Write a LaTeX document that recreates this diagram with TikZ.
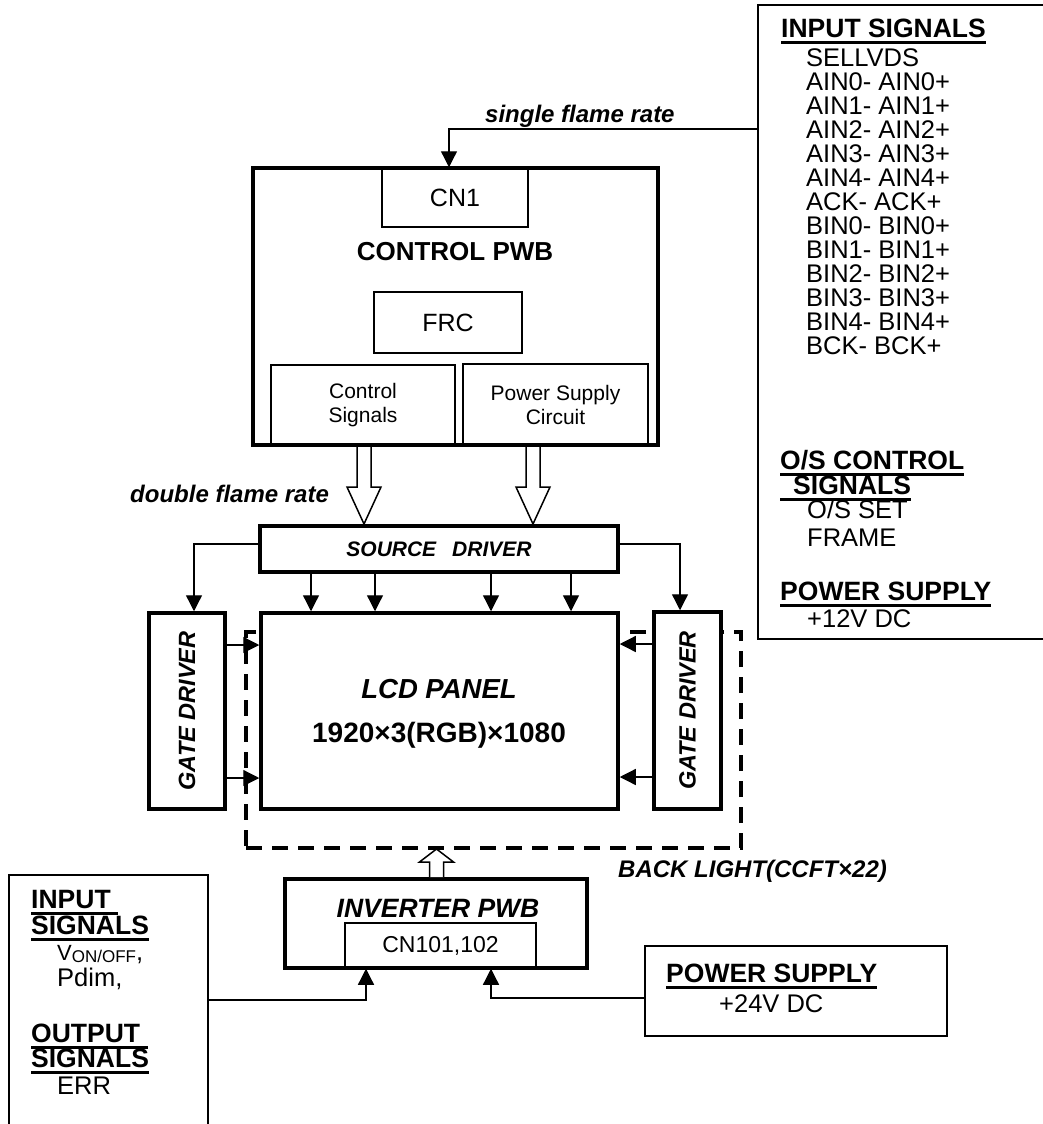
\documentclass[tikz,border=0pt]{standalone}
\usepackage{fontspec}
\setmainfont{Liberation Sans}
\usetikzlibrary{arrows.meta,positioning}

\newcommand{\ulbox}[1]{\setbox0=\hbox{#1}\rlap{\rule[-6.5pt]{\wd0}{3pt}}\box0}
\newcommand{\fatarrow}[4]{\draw[fat] (#1-7,#2) -- (#1-7,#4) -- (#1-17,#4) -- (#1,#3) -- (#1+17,#4) -- (#1+7,#4) -- (#1+7,#2);}

\begin{document}
\begin{tikzpicture}[x=1pt, y=-1pt,
    board/.style={draw, line width=3.5pt, fill=white, inner sep=0pt},
    part/.style={draw, line width=1.5pt, inner sep=0pt, align=center},
    listbox/.style={draw, line width=1.5pt, inner sep=0pt},
    lamp/.style={draw, dash pattern=on 16pt off 10pt, line width=3.5pt, inner sep=0pt},
    wire/.style={line width=1.3pt},
    sig/.style={wire, -{Triangle[length=16pt, width=16pt]}},
    fat/.style={line width=1.5pt, fill=white},
    txt/.style={inner sep=0pt, anchor=base west, font=\fontsize{25.5}{24}\selectfont},
    hd/.style={txt, font=\fontsize{26.5}{27}\selectfont\bfseries},
    bi/.style={inner sep=0pt, anchor=base, font=\fontsize{24}{24}\selectfont\bfseries\itshape}
]
    \useasboundingbox (0,0) rectangle (1043,1124);

    % signal lists
    \node[listbox, minimum width=292, minimum height=634] (sigR) at (904,322) {};
    \node[listbox, minimum width=199, minimum height=270] (sigL) at (108.5,1010) {};
    \node[listbox, minimum width=302, minimum height=90] (pwr) at (796,991) {};

    % back light
    \node[lamp, minimum width=495, minimum height=216] (blight) at (493.5,740) {};

    % control pwb
    \node[board, minimum width=405, minimum height=277] (ctrl) at (455.5,306.5) {};
    \node[part, minimum width=146, minimum height=59, font=\fontsize{25}{25}\selectfont] (cn1) at (455,197.5) {CN1};
    \node[bi, font=\fontsize{26}{26}\selectfont\bfseries] (ctrlname) at (455,260) {CONTROL PWB};
    \node[part, minimum width=148, minimum height=61, font=\fontsize{25}{25}\selectfont] (frc) at (448,322.5) {FRC};
    \node[part, minimum width=184, minimum height=80, font=\fontsize{21}{24}\selectfont] (ctlsig) at (363,405) {Control\\Signals};
    \node[part, minimum width=185, minimum height=81, font=\fontsize{21}{24}\selectfont] (psc) at (555.5,404.5) {Power Supply\\Circuit};

    % drivers and panel
    \node[board, minimum width=358, minimum height=46, font=\fontsize{21}{21}\selectfont\bfseries\itshape] (srcdrv) at (439,549) {SOURCE\hspace{16pt}DRIVER};
    \node[board, minimum width=76, minimum height=196] (lgate) at (187,711) {};
    \node[board, minimum width=67, minimum height=197] (rgate) at (687.5,710.5) {};
    \node[board, minimum width=357, minimum height=196] (lcd) at (439.5,711) {};
    \node[bi, rotate=90, anchor=center, font=\fontsize{23.5}{23.5}\selectfont\bfseries\itshape] (lgname) at (lgate.center) {GATE DRIVER};
    \node[bi, rotate=90, anchor=center, font=\fontsize{23.5}{23.5}\selectfont\bfseries\itshape] (rgname) at (rgate.center) {GATE DRIVER};
    \node[bi, font=\fontsize{27.5}{27.5}\selectfont\bfseries\itshape] (lcdname) at (439,698) {LCD PANEL};
    \node[bi, font=\fontsize{28}{28}\selectfont\bfseries] (lcdres) at (439,742) {1920×3(RGB)×1080};

    % inverter
    \node[board, minimum width=302, minimum height=89] (inv) at (436,923.5) {};
    \node[part, minimum width=191, minimum height=45, font=\fontsize{23}{23}\selectfont] (cn101) at (440.5,945.5) {CN101,102};
    \node[bi, font=\fontsize{26.5}{26.5}\selectfont\bfseries\itshape] (invname) at (438,917) {INVERTER PWB};

    % labels
    \node[bi, anchor=base west] (single) at (485,122) {single flame rate};
    \node[bi, anchor=base west] (double) at (130,502) {double flame rate};
    \node[bi, anchor=base west] (bllabel) at (618,877) {BACK LIGHT(CCFT×22)};

    % connections
    \draw[sig] (sigR.west |- 0,129) -| ([xshift=-6pt]cn1.north);
    \fatarrow{364}{447}{524}{487}
    \fatarrow{533}{447}{524}{487}
    \draw[sig] ([yshift=5pt]srcdrv.west) -| ([xshift=7pt]lgate.north);
    \draw[sig] ([yshift=5pt]srcdrv.east) -| ([xshift=-7.5pt]rgate.north);
    \foreach \x in {311,375,491,571}
        \draw[sig] (\x,0 |- srcdrv.south) -- (\x,0 |- lcd.north);
    \foreach \y in {645,778}
        \draw[sig] (lgate.east |- 0,\y) -- (lcd.west |- 0,\y);
    \foreach \y in {644,777}
        \draw[sig] (rgate.west |- 0,\y) -- (lcd.east |- 0,\y);
    \fatarrow{436.5}{877}{849}{862}
    \draw[sig] (sigL.east |- 0,1000) -| (366,0 |- cn101.south);
    \draw[sig] (pwr.west |- 0,998) -| (491,0 |- cn101.south);

    % right list
    \node[hd] (inhd) at (781,38) {\ulbox{INPUT SIGNALS}};
    \foreach \s [count=\i] in {SELLVDS, AIN0- AIN0+, AIN1- AIN1+, AIN2- AIN2+, AIN3- AIN3+,
        AIN4- AIN4+, ACK- ACK+, BIN0- BIN0+, BIN1- BIN1+, BIN2- BIN2+, BIN3- BIN3+,
        BIN4- BIN4+, BCK- BCK+}
        \node[txt] (in\i) at (806,42.5+24*\i) {\s};
    \node[hd] (oshd) at (780,469) {\ulbox{O/S CONTROL}};
    \node[hd] (oshd2) at (780,494) {\ulbox{\hspace{13pt}SIGNALS}};
    \node[txt] (osset) at (807,518) {O/S SET};
    \node[txt] (frame) at (807,546) {FRAME};
    \node[hd] (pshd) at (780,600) {\ulbox{POWER SUPPLY}};
    \node[txt] (v12) at (807,627) {+12V DC};

    % left list
    \node[hd] (ihd) at (31,908) {\ulbox{INPUT\ }};
    \node[hd] (ihd2) at (31,934) {\ulbox{SIGNALS}};
    \node[txt] (von) at (57,960) {{\fontsize{22}{22}\selectfont V}\raisebox{-2pt}{\fontsize{17}{17}\selectfont ON/OFF},};
    \node[txt] (pdim) at (57,986) {Pdim,};
    \node[hd] (ohd) at (31,1042) {\ulbox{OUTPUT\ }};
    \node[hd] (ohd2) at (31,1067) {\ulbox{SIGNALS}};
    \node[txt] (err) at (57,1094) {ERR};

    % inverter supply
    \node[hd] (pshd24) at (666,982) {\ulbox{POWER SUPPLY}};
    \node[txt] (v24) at (719,1012) {+24V DC};
\end{tikzpicture}
\end{document}
